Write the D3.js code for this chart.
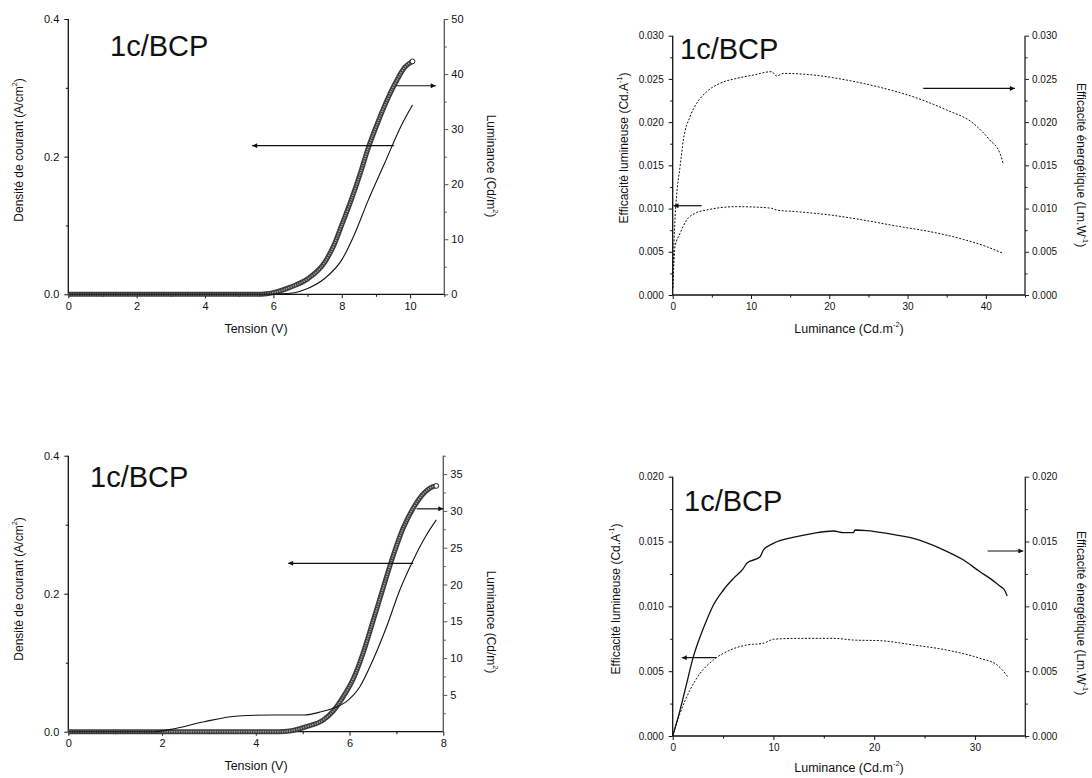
<!DOCTYPE html>
<html>
<head>
<meta charset="utf-8">
<script src="https://cdn.jsdelivr.net/npm/d3@7/dist/d3.min.js"></script>
<style>
  html, body { margin: 0; padding: 0; background: #fff; }
  svg { display: block; }
  text { font-family: "Liberation Sans", Arial, sans-serif; fill: #111; }
</style>
</head>
<body>
<svg id="chart" width="1092" height="778"></svg>
<script>
// ---------------- DATA ----------------
// Panel 1 (top-left): J-V-L
const p1LumVoltage = [0, 0.5, 1, 1.5, 2, 2.5, 3, 3.5, 4, 4.5, 5, 5.5, 5.8, 6.0, 6.5, 7.0, 7.5, 7.77, 8.0, 8.27, 8.56, 8.76, 9.06, 9.35, 9.64, 9.84, 10.07];
const p1Luminance   = [0, 0, 0, 0, 0, 0, 0, 0, 0, 0, 0, 0, 0.1, 0.3, 1.3, 2.8, 5.8, 8.9, 12.6, 17.0, 22.3, 26.3, 31.3, 35.6, 39.2, 41.2, 42.3];
const p1CurVoltage = [0, 1, 2, 3, 4, 5, 6, 6.5, 7.0, 7.5, 8.0, 8.37, 8.76, 9.25, 9.74, 10.07];
const p1Current    = [0, 0, 0, 0, 0, 0, 0.0003, 0.0015, 0.0085, 0.023, 0.05, 0.087, 0.135, 0.19, 0.245, 0.275];

// Panel 2 (top-right): efficiencies vs luminance
const p2PowLum = [0.02, 0.1, 0.25, 0.5, 0.94, 1.36, 2.21, 3.06, 4.34, 6.04, 8.17, 10.3, 12.64, 13.28, 14.13, 17.96, 22.2, 26.5, 30.7, 35.0, 38.4, 40.5, 41.8, 42.2];
const p2PowEff = [0.0008, 0.004, 0.008, 0.0115, 0.01485, 0.01793, 0.02063, 0.02217, 0.02352, 0.02449, 0.02506, 0.02545, 0.02584, 0.02533, 0.02564, 0.02545, 0.02487, 0.02402, 0.02294, 0.0214, 0.01986, 0.01793, 0.01639, 0.01523];
const p2LumLum = [0.02, 0.12, 0.3, 0.94, 1.79, 2.85, 4.34, 6.04, 8.17, 10.3, 12.64, 13.28, 15.83, 20.1, 24.3, 28.6, 32.85, 37.1, 40.1, 42.2];
const p2LumEff = [0.0008, 0.003, 0.00559, 0.00713, 0.00868, 0.00945, 0.00983, 0.0101, 0.01022, 0.01018, 0.01003, 0.00983, 0.00964, 0.00926, 0.00868, 0.00798, 0.00733, 0.00644, 0.00559, 0.00482];

// Panel 3 (bottom-left): J-V-L
const p3LumVoltage = [0, 1, 2, 3, 4, 4.5, 4.72, 5.08, 5.44, 5.65, 5.86, 6.08, 6.29, 6.5, 6.72, 6.93, 7.14, 7.36, 7.57, 7.78, 7.85];
const p3Luminance   = [0, 0, 0, 0, 0, 0, 0.1, 0.7, 1.6, 2.8, 4.7, 7.2, 10.7, 15.0, 19.6, 23.9, 27.6, 30.4, 32.3, 33.3, 33.4];
const p3CurVoltage = [0, 1, 1.83, 2.19, 2.9, 3.62, 4.33, 5.04, 5.4, 5.65, 5.93, 6.22, 6.5, 6.79, 7.07, 7.36, 7.64, 7.85];
const p3Current    = [0, 0, 0, 0.0034, 0.0145, 0.0227, 0.0242, 0.0242, 0.029, 0.0339, 0.0435, 0.0652, 0.104, 0.152, 0.205, 0.249, 0.285, 0.307];

// Panel 4 (bottom-right): efficiencies vs luminance
const p4PowLum = [0, 0.73, 1.39, 2.05, 2.72, 3.38, 4.04, 5.03, 6.03, 7.02, 7.35, 8.68, 9.0, 10.0, 12.3, 13.97, 15.96, 16.95, 17.95, 18.1, 19.27, 21.26, 23.9, 26.56, 28.87, 30.5, 31.6, 32.4, 32.9, 33.2];
const p4PowEff = [0, 0.002, 0.00406, 0.00612, 0.00766, 0.00895, 0.0101, 0.01126, 0.01216, 0.01293, 0.01332, 0.01383, 0.01434, 0.01486, 0.01537, 0.01563, 0.01581, 0.01568, 0.01568, 0.01589, 0.01584, 0.01563, 0.01524, 0.01447, 0.01357, 0.01267, 0.0121, 0.0116, 0.0113, 0.0108];
const p4LumLum = [0, 0.73, 1.72, 2.72, 4.04, 5.7, 7.35, 9.0, 10.0, 12.3, 15.96, 17.95, 20.6, 23.9, 27.2, 30.5, 32.2, 33.25];
const p4LumEff = [0, 0.00175, 0.00355, 0.00483, 0.00586, 0.00663, 0.00702, 0.00715, 0.00746, 0.00753, 0.00753, 0.0074, 0.00735, 0.00702, 0.00663, 0.00599, 0.00548, 0.00458];

// Tick labels
const jvTicksMajor = [0, 0.2, 0.4];
const jvTicksMinor = [0.1, 0.3];
const p1XMajor = [0, 2, 4, 6, 8, 10];
const p1XMinor = [1, 3, 5, 7, 9, 11];
const p1RMajor = [0, 10, 20, 30, 40, 50];
const p1RMinor = [5, 15, 25, 35, 45];
const p3XMajor = [0, 2, 4, 6, 8];
const p3XMinor = [1, 3, 5, 7];
const p3RMajor = [5, 10, 15, 20, 25, 30, 35];
const p3RMinor = [2.5, 7.5, 12.5, 17.5, 22.5, 27.5, 32.5, 37.5];
const p2YMajor = [0, 0.005, 0.010, 0.015, 0.020, 0.025, 0.030];
const p2YMinor = [0.0025, 0.0075, 0.0125, 0.0175, 0.0225, 0.0275];
const p2XMajor = [0, 10, 20, 30, 40];
const p2XMinor = [5, 15, 25, 35, 45];
const p4YMajor = [0, 0.005, 0.010, 0.015, 0.020];
const p4YMinor = [0.0025, 0.0075, 0.0125, 0.0175];
const p4XMajor = [0, 10, 20, 30];
const p4XMinor = [5, 15, 25, 35];

// ---------------- DRAWING ----------------
const svg = d3.select("#chart");
svg.append("rect").attr("width", 1092).attr("height", 778).attr("fill", "#fff");

svg.append("defs").append("marker")
  .attr("id", "arrow").attr("viewBox", "0 0 10 10")
  .attr("refX", 10).attr("refY", 5)
  .attr("markerWidth", 9).attr("markerHeight", 5)
  .attr("markerUnits", "userSpaceOnUse")
  .attr("orient", "auto")
  .append("path").attr("d", "M0,0 L10,5 L0,10 Z").attr("fill", "#111");

function zip(xs, ys) { return xs.map((x, i) => [x, ys[i]]); }

function addLabel(g, x, y, rot, parts, size) {
  const t = g.append("text")
    .attr("transform", `translate(${x},${y}) rotate(${rot})`)
    .attr("text-anchor", "middle")
    .attr("dominant-baseline", "middle")
    .style("font-size", size + "px");
  parts.forEach(p => {
    const ts = t.append("tspan").text(p.t);
    if (p.sup) ts.attr("baseline-shift", "super").style("font-size", (size * 0.6) + "px");
  });
}

function drawPanel(cfg) {
  const g = svg.append("g");
  const x = d3.scaleLinear().domain(cfg.xDomain).range([cfg.left, cfg.right]);
  const yL = d3.scaleLinear().domain(cfg.yLDomain).range([cfg.bottom, cfg.top]);
  const yR = d3.scaleLinear().domain(cfg.yRDomain).range([cfg.bottom, cfg.top]);
  const fs = cfg.tickFont;

  const gx = g.append("g").attr("transform", `translate(0,${cfg.bottom})`)
    .call(d3.axisBottom(x).tickValues(cfg.xMajor).tickSize(4).tickPadding(4).tickFormat(cfg.xFormat));
  const gxm = g.append("g").attr("transform", `translate(0,${cfg.bottom})`)
    .call(d3.axisBottom(x).tickValues(cfg.xMinor).tickSize(2.5).tickFormat(""));
  const gl = g.append("g").attr("transform", `translate(${cfg.left},0)`)
    .call(d3.axisLeft(yL).tickValues(cfg.yLMajor).tickSize(4).tickPadding(5).tickFormat(cfg.yLFormat));
  const glm = g.append("g").attr("transform", `translate(${cfg.left},0)`)
    .call(d3.axisLeft(yL).tickValues(cfg.yLMinor).tickSize(2.5).tickFormat(""));
  const gr = g.append("g").attr("transform", `translate(${cfg.right},0)`)
    .call(d3.axisRight(yR).tickValues(cfg.yRMajor).tickSize(4).tickPadding(3).tickFormat(cfg.yRFormat));
  const grm = g.append("g").attr("transform", `translate(${cfg.right},0)`)
    .call(d3.axisRight(yR).tickValues(cfg.yRMinor).tickSize(2.5).tickFormat(""));

  [gx, gxm, gl, glm].forEach(a => {
    a.select(".domain").attr("stroke", "#111").attr("stroke-width", 1.3);
    a.selectAll(".tick line").attr("stroke", "#111");
    a.selectAll(".tick text").style("font-size", fs + "px")
      .style("font-family", '"Liberation Sans", Arial, sans-serif').attr("fill", "#111");
  });
  [gr, grm].forEach(a => {
    a.select(".domain").attr("stroke", cfg.rightColor).attr("stroke-width", 1.3);
    a.selectAll(".tick line").attr("stroke", cfg.rightColor);
    a.selectAll(".tick text").style("font-size", fs + "px")
      .style("font-family", '"Liberation Sans", Arial, sans-serif').attr("fill", "#111");
  });
  gxm.select(".domain").remove(); glm.select(".domain").remove(); grm.select(".domain").remove();
  gl.select(".domain").attr("d", `M0,${cfg.bottom}V${cfg.top}`);
  gr.select(".domain").attr("d", `M0,${cfg.bottom}V${cfg.top}`);
  gx.select(".domain").attr("d", `M${cfg.left},0H${cfg.right}`);

  cfg.series.forEach(s => {
    const ys = s.axis === "R" ? yR : yL;
    const line = d3.line().x(d => x(d[0])).y(d => ys(d[1])).curve(d3.curveMonotoneX);
    const pts = zip(s.xs, s.ys);
    if (s.style === "circles") {
      g.append("path").attr("d", line(pts)).attr("fill", "none")
        .attr("stroke", "#3c3c3c").attr("stroke-width", 5).attr("stroke-linejoin", "round");
      g.append("path").attr("d", line(pts)).attr("fill", "none")
        .attr("stroke", "#a8a8a8").attr("stroke-width", 1.8).attr("stroke-dasharray", "1.2,1.2");
      const last = pts[pts.length - 1];
      g.append("circle").attr("cx", x(last[0])).attr("cy", ys(last[1])).attr("r", 2.4)
        .attr("fill", "#fff").attr("stroke", "#222").attr("stroke-width", 1);
    } else {
      g.append("path").attr("d", line(pts)).attr("fill", "none")
        .attr("stroke", "#111").attr("stroke-width", s.width || 1)
        .attr("stroke-dasharray", s.style === "dotted" ? "2,1.6" : null);
    }
  });

  cfg.arrows.forEach(a => {
    g.append("line")
      .attr("x1", x(a.from[0])).attr("y1", yL(a.from[1]))
      .attr("x2", x(a.to[0])).attr("y2", yL(a.to[1]))
      .attr("stroke", "#111").attr("stroke-width", 1.2)
      .attr("marker-end", "url(#arrow)");
  });

  g.append("text").attr("x", cfg.title[0]).attr("y", cfg.title[1])
    .style("font-size", "29px").text("1c/BCP");

  addLabel(g, cfg.xLabelPos[0], cfg.xLabelPos[1], 0, cfg.xLabel, 12.5);
  addLabel(g, cfg.yLLabelPos[0], cfg.yLLabelPos[1], -90, cfg.yLLabel, 12);
  addLabel(g, cfg.yRLabelPos[0], cfg.yRLabelPos[1], 90, cfg.yRLabel, 12);
}

const fmt1 = d3.format(".1f"), fmt0 = d3.format("d"), fmt3 = d3.format(".3f");

drawPanel({
  left: 68.3, right: 444.3, top: 19, bottom: 294.3,
  xDomain: [0, 11], yLDomain: [0, 0.4], yRDomain: [0, 50],
  xMajor: p1XMajor, xMinor: p1XMinor, yLMajor: jvTicksMajor, yLMinor: jvTicksMinor,
  yRMajor: p1RMajor, yRMinor: p1RMinor,
  xFormat: fmt0, yLFormat: fmt1, yRFormat: fmt0, tickFont: 11, rightColor: "#555",
  series: [
    { xs: p1LumVoltage, ys: p1Luminance, axis: "R", style: "circles" },
    { xs: p1CurVoltage, ys: p1Current, axis: "L", style: "solid", width: 1.1 }
  ],
  arrows: [
    { from: [9.53, 0.216], to: [5.38, 0.216] },
    { from: [9.58, 0.303], to: [10.75, 0.303] }
  ],
  title: [110, 55.5],
  xLabel: [{ t: "Tension (V)" }], xLabelPos: [256, 330],
  yLLabel: [{ t: "Densité de courant (A/cm" }, { t: "2", sup: true }, { t: ")" }], yLLabelPos: [20, 150],
  yRLabel: [{ t: "Luminance (Cd/m" }, { t: "2", sup: true }, { t: ")" }], yRLabelPos: [490, 166]
});

drawPanel({
  left: 672.7, right: 1025, top: 35.7, bottom: 295,
  xDomain: [0, 45], yLDomain: [0, 0.03], yRDomain: [0, 0.03],
  xMajor: p2XMajor, xMinor: p2XMinor, yLMajor: p2YMajor, yLMinor: p2YMinor,
  yRMajor: p2YMajor, yRMinor: p2YMinor,
  xFormat: fmt0, yLFormat: fmt3, yRFormat: fmt3, tickFont: 10, rightColor: "#222",
  series: [
    { xs: p2PowLum, ys: p2PowEff, axis: "R", style: "dotted" },
    { xs: p2LumLum, ys: p2LumEff, axis: "L", style: "dotted" }
  ],
  arrows: [
    { from: [3.7, 0.01033], to: [0.1, 0.01033] },
    { from: [32, 0.0239], to: [43.7, 0.0239] }
  ],
  title: [680, 58.5],
  xLabel: [{ t: "Luminance (Cd.m" }, { t: "-2", sup: true }, { t: ")" }], xLabelPos: [849, 330],
  yLLabel: [{ t: "Efficacité lumineuse (Cd.A" }, { t: "-1", sup: true }, { t: ")" }], yLLabelPos: [625, 148],
  yRLabel: [{ t: "Efficacité énergétique (Lm.W" }, { t: "-1", sup: true }, { t: ")" }], yRLabelPos: [1080, 165]
});

drawPanel({
  left: 68.3, right: 443.3, top: 455.7, bottom: 731.7,
  xDomain: [0, 8], yLDomain: [0, 0.4], yRDomain: [0, 37.5],
  xMajor: p3XMajor, xMinor: p3XMinor, yLMajor: jvTicksMajor, yLMinor: jvTicksMinor,
  yRMajor: p3RMajor, yRMinor: p3RMinor,
  xFormat: fmt0, yLFormat: fmt1, yRFormat: fmt0, tickFont: 11, rightColor: "#555",
  series: [
    { xs: p3LumVoltage, ys: p3Luminance, axis: "R", style: "circles" },
    { xs: p3CurVoltage, ys: p3Current, axis: "L", style: "solid", width: 1.1 }
  ],
  arrows: [
    { from: [7.36, 0.244], to: [4.69, 0.244] },
    { from: [7.43, 0.323], to: [8.0, 0.323] }
  ],
  title: [90, 487],
  xLabel: [{ t: "Tension (V)" }], xLabelPos: [256, 767],
  yLLabel: [{ t: "Densité de courant (A/cm" }, { t: "2", sup: true }, { t: ")" }], yLLabelPos: [20, 589],
  yRLabel: [{ t: "Luminance (Cd/m" }, { t: "2", sup: true }, { t: ")" }], yRLabelPos: [490, 622]
});

drawPanel({
  left: 672.7, right: 1025.3, top: 476.7, bottom: 736,
  xDomain: [0, 35], yLDomain: [0, 0.02], yRDomain: [0, 0.02],
  xMajor: p4XMajor, xMinor: p4XMinor, yLMajor: p4YMajor, yLMinor: p4YMinor,
  yRMajor: p4YMajor, yRMinor: p4YMinor,
  xFormat: fmt0, yLFormat: fmt3, yRFormat: fmt3, tickFont: 10, rightColor: "#222",
  series: [
    { xs: p4PowLum, ys: p4PowEff, axis: "R", style: "solid", width: 1.3 },
    { xs: p4LumLum, ys: p4LumEff, axis: "L", style: "dotted" }
  ],
  arrows: [
    { from: [4.3, 0.00604], to: [0.9, 0.00604] },
    { from: [31.26, 0.01427], to: [34.8, 0.01427] }
  ],
  title: [684, 511],
  xLabel: [{ t: "Luminance (Cd.m" }, { t: "-2", sup: true }, { t: ")" }], xLabelPos: [849, 769],
  yLLabel: [{ t: "Efficacité lumineuse (Cd.A" }, { t: "-1", sup: true }, { t: ")" }], yLLabelPos: [617, 599],
  yRLabel: [{ t: "Efficacité énergétique (Lm.W" }, { t: "-1", sup: true }, { t: ")" }], yRLabelPos: [1080, 613]
});
</script>
</body>
</html>
